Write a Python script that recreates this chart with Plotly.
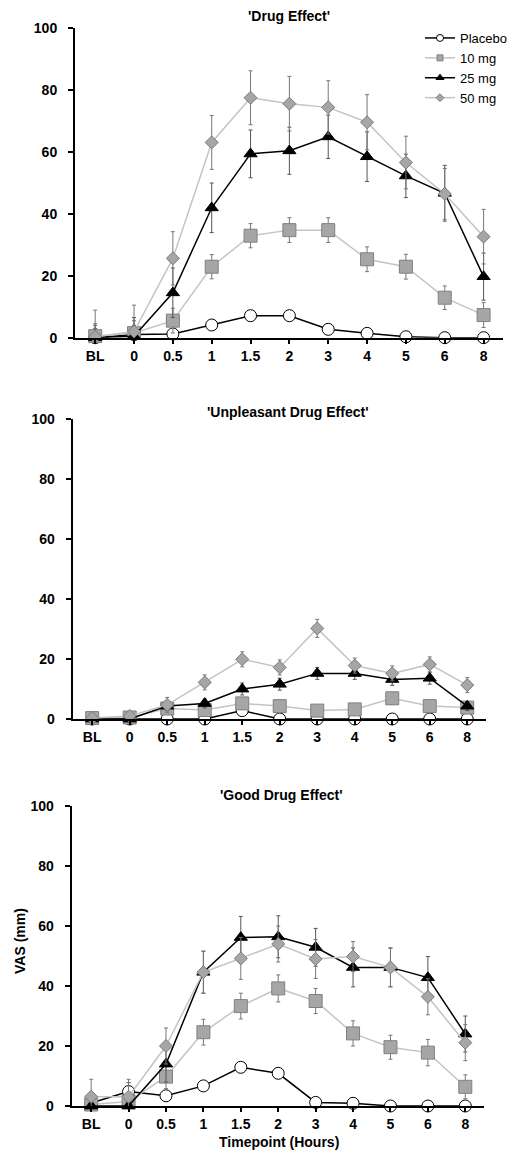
import plotly.graph_objects as go

timepoints = ["BL", "0", "0.5", "1", "1.5", "2", "3", "4", "5", "6", "8"]
groups = ["Placebo", "10 mg", "25 mg", "50 mg"]
panel_titles = ["'Drug Effect'", "'Unpleasant Drug Effect'", "'Good Drug Effect'"]
y_ticks = [0, 20, 40, 60, 80, 100]

# 'Drug Effect'
de_placebo = [0, 1.0, 1.2, 4.1, 7.1, 7.1, 2.7, 1.4, 0.3, 0, 0]
de_placebo_err = [3, 3, 1, 1.5, 1.5, 1.5, 1.5, 1, 0.5, 0, 0]
de_10 = [0.5, 1.5, 5.5, 22.9, 32.9, 34.7, 34.7, 25.3, 22.9, 12.9, 7.3]
de_10_err = [4, 4, 4, 3.9, 3.9, 4, 4, 4, 4, 3.8, 4]
de_25 = [0, 0.5, 14.5, 41.9, 59.3, 60.3, 64.8, 58.4, 52.2, 46.6, 19.7]
de_25_err = [4, 6, 8, 8, 7.7, 7.6, 7, 8, 7, 9, 7.6]
de_50 = [0.3, 2.0, 25.6, 63, 77.4, 75.5, 74.3, 69.5, 56.5, 46.4, 32.6]
de_50_err = [8.6, 8.5, 8.6, 8.7, 8.7, 8.8, 8.6, 8.9, 8.5, 8.2, 8.8]

# 'Unpleasant Drug Effect'
ud_placebo = [0, 0, 0, 0, 2.8, 0, 0, 0, 0, 0, 0]
ud_placebo_err = [0.3, 0.3, 0.3, 0.3, 1, 0.3, 0, 0, 0, 0, 0]
ud_10 = [0.3, 0.5, 3.5, 3.0, 5.2, 4.3, 2.8, 3.2, 6.9, 4.3, 3.8]
ud_10_err = [1, 1, 1.5, 1.5, 2, 1.5, 1.5, 1.5, 2, 1.5, 1.5]
ud_25 = [0, 0, 4.3, 5.2, 10, 11.6, 15.2, 15.2, 13.2, 13.6, 4.3]
ud_25_err = [0.5, 0.5, 1.5, 1.5, 2, 2, 2, 2, 2, 2, 1.5]
ud_50 = [0.3, 1, 4.7, 12.2, 19.9, 17.2, 30.2, 17.8, 15.2, 18.2, 11.3]
ud_50_err = [1, 1, 2.5, 2.5, 2.5, 2.5, 3, 2.5, 2.5, 2.5, 2.5]

# 'Good Drug Effect'
gd_placebo = [1, 4.8, 3.4, 6.7, 12.9, 10.9, 1.2, 0.9, 0, 0, 0]
gd_placebo_err = [1, 3, 1, 1, 1, 1, 1, 0.5, 0, 0, 0]
gd_10 = [0.5, 1.5, 9.8, 24.6, 33.3, 39.2, 35, 24.2, 19.6, 17.8, 6.4]
gd_10_err = [3, 3, 4, 4.3, 4.3, 4.5, 4.2, 4.2, 4, 4.4, 4]
gd_25 = [0, 0, 14, 44.6, 56.2, 56.4, 52.9, 46.2, 46.2, 42.8, 24]
gd_25_err = [2, 2, 6, 7, 7, 7, 6.3, 6.5, 6.5, 7, 6]
gd_50 = [3.1, 3.1, 20, 44.6, 49.2, 54, 49, 49.8, 46.2, 36.4, 21.1]
gd_50_err = [5.8, 5.8, 6, 7, 7, 6, 6.5, 5, 6.4, 6, 6]

panels = [
    [(de_placebo, de_placebo_err), (de_10, de_10_err), (de_25, de_25_err), (de_50, de_50_err)],
    [(ud_placebo, ud_placebo_err), (ud_10, ud_10_err), (ud_25, ud_25_err), (ud_50, ud_50_err)],
    [(gd_placebo, gd_placebo_err), (gd_10, gd_10_err), (gd_25, gd_25_err), (gd_50, gd_50_err)],
]

W, H = 509, 1153
# pixel geometry of each panel: (left, right, top, bottom)
geo = [(75, 503, 27.7, 337.7), (72.7, 486, 419, 719), (71.7, 484, 806, 1106)]

styles = [
    dict(symbol="circle", size=12, lsize=7, fill="white", mline="black", line="black", err="#555555"),
    dict(symbol="square", size=13, lsize=6, fill="#a6a6a6", mline="#808080", line="#c4c4c4", err="#777777"),
    dict(symbol="triangle-up", size=11.5, lsize=7, fill="black", mline="black", line="black", err="#555555"),
    dict(symbol="diamond", size=10, lsize=6, fill="#a6a6a6", mline="#7a7a7a", line="#c4c4c4", err="#777777"),
]

FONT = "Liberation Sans, Arial, sans-serif"
fig = go.Figure()

for p, series in enumerate(panels):
    xa = "x" if p == 0 else f"x{p+1}"
    ya = "y" if p == 0 else f"y{p+1}"
    for g, (vals, errs) in enumerate(series):
        s = styles[g]
        fig.add_trace(go.Scatter(
            x=timepoints, y=vals, xaxis=xa, yaxis=ya,
            name=groups[g], showlegend=False, mode="lines+markers",
            line=dict(color=s["line"], width=1.5),
            marker=dict(symbol=s["symbol"], size=s["size"], color=s["fill"],
                        line=dict(color=s["mline"], width=1)),
            error_y=dict(type="data", array=errs, color=s["err"], thickness=1, width=2),
            cliponaxis=False,
        ))

# legend entries (small symbols, as in the reference legend)
for g, s in enumerate(styles):
    fig.add_trace(go.Scatter(
        x=[None], y=[None], name=groups[g], mode="lines+markers", showlegend=True,
        line=dict(color=s["line"], width=1.5),
        marker=dict(symbol=s["symbol"], size=s["lsize"], color=s["fill"],
                    line=dict(color=s["mline"], width=1)),
    ))

layout = dict(
    width=W, height=H, margin=dict(l=0, r=0, t=0, b=0, autoexpand=False),
    paper_bgcolor="white", plot_bgcolor="white",
    font=dict(family=FONT, color="black"),
    showlegend=True,
    legend=dict(x=420 / W, y=1 - 23 / H, xanchor="left", yanchor="top",
                font=dict(size=13, family=FONT), bgcolor="rgba(0,0,0,0)",
                tracegroupgap=0, itemwidth=30, itemsizing="trace"),
)

annotations = []
for p, (l, r, t, b) in enumerate(geo):
    sfx = "" if p == 0 else str(p + 1)
    layout["xaxis" + sfx] = dict(
        domain=[l / W, r / W], anchor="y" + sfx, type="category", automargin=False,
        range=[-0.52, 10.5], showline=True, linecolor="black", linewidth=2,
        ticks="outside", ticklen=4, tickwidth=1.5, tickcolor="black",
        showgrid=False, zeroline=False,
        tickfont=dict(size=14, family=FONT, weight="bold"),
        categoryorder="array", categoryarray=timepoints,
    )
    layout["yaxis" + sfx] = dict(
        domain=[1 - b / H, 1 - t / H], anchor="x" + sfx, automargin=False,
        range=[0, 100], tickvals=y_ticks, showline=True, linecolor="black", linewidth=2,
        ticks="outside", ticklen=5, tickwidth=1.5, tickcolor="black",
        showgrid=False, zeroline=False, ticklabelstandoff=8,
        tickfont=dict(size=14, family=FONT, weight="bold"),
    )

title_pos = [(289, 16), (287, 412), (281, 795)]
for (tx, ty), txt in zip(title_pos, panel_titles):
    annotations.append(dict(text=txt, x=tx / W, y=1 - ty / H, xref="paper", yref="paper",
                            showarrow=False, xanchor="center", yanchor="middle",
                            font=dict(size=14, family=FONT, weight="bold")))

annotations.append(dict(text="VAS (mm)", x=20 / W, y=1 - 941 / H, xref="paper", yref="paper",
                        showarrow=False, textangle=-90, xanchor="center", yanchor="middle",
                        font=dict(size=14, family=FONT, weight="bold")))
annotations.append(dict(text="Timepoint (Hours)", x=279 / W, y=1 - 1142 / H, xref="paper", yref="paper",
                        showarrow=False, xanchor="center", yanchor="middle",
                        font=dict(size=14, family=FONT, weight="bold")))
layout["annotations"] = annotations

fig.update_layout(**layout)
fig.write_html("out.html", config={"displayModeBar": False},
               post_script="document.body.style.margin='0';document.body.style.overflow='hidden';")
